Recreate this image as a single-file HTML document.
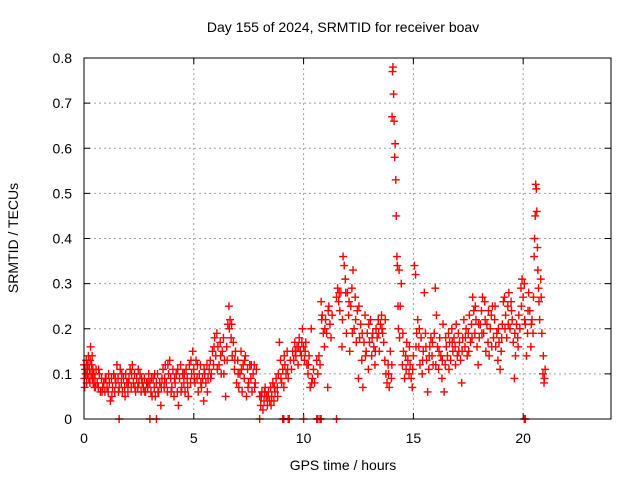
<!DOCTYPE html>
<html><head><meta charset="utf-8"><style>
html,body{margin:0;padding:0;background:#fff;}
svg{display:block;font-family:"Liberation Sans",sans-serif;}
</style></head><body>
<svg id="chart" width="640" height="480" viewBox="0 0 640 480" xmlns="http://www.w3.org/2000/svg">
<rect width="640" height="480" fill="#fff"/>
<text x="343" y="32" font-size="14" text-anchor="middle">Day 155 of 2024, SRMTID for receiver boav</text>
<text x="343" y="470" font-size="14" text-anchor="middle">GPS time / hours</text>
<text x="0" y="0" font-size="14" text-anchor="middle" transform="translate(18,238) rotate(-90)">SRMTID / TECUs</text>
<g id="grid"></g><g id="ticks"></g><g id="marks"></g>
<rect x="84" y="58" width="527" height="361" fill="none" stroke="#000" stroke-width="1"/>
</svg>
<script>
const xTicks = [0,5,10,15,20];
const yTicks = [0,0.1,0.2,0.3,0.4,0.5,0.6,0.7,0.8];
const yTickLabels = ["0","0.1","0.2","0.3","0.4","0.5","0.6","0.7","0.8"];
const samples = [
[0,.12],[.02,.09],[.05,.11],[.08,.10],[.1,.13],[.12,.08],[.15,.10],[.18,.12],[.2,.14],[.22,.09],[.25,.11],[.28,.13],[.3,.16],[.32,.10],[.35,.12],[.38,.09],[.4,.11],[.42,.08],[.45,.10],[.48,.07],[.5,.09],[.55,.11],[.6,.08],[.65,.07],[.7,.10],[.75,.06],[.8,.09],[.85,.07],[.9,.08],[.95,.06],
[1.0,.09],[1.05,.07],[1.1,.06],[1.15,.08],[1.2,.04],[1.25,.09],[1.3,.07],[1.35,.10],[1.4,.06],[1.45,.08],[1.5,.12],[1.55,.09],[1.6,.07],[1.65,.11],[1.7,.08],[1.75,.06],[1.8,.09],[1.85,.07],[1.9,.10],[1.95,.08],[2.0,.06],[2.05,.09],[2.1,.11],[2.15,.07],[2.2,.12],[2.25,.08],[2.3,.10],[2.35,.06],[2.4,.09],[2.45,.07],[2.5,.08],[2.55,.10],[2.6,.06],[2.65,.08],[2.7,.07],[2.75,.09],[2.8,.06],[2.85,.08],[2.9,.07],[2.95,.10],
[3.0,.08],[3.05,.06],[3.1,.05],[3.15,.09],[3.2,.07],[3.25,.05],[3.3,.08],[3.35,.10],[3.4,.06],[3.45,.08],[3.5,.03],[3.55,.09],[3.6,.11],[3.65,.07],[3.7,.12],[3.75,.08],[3.8,.06],[3.85,.10],[3.9,.13],[3.95,.09],[4.0,.07],[4.05,.11],[4.1,.05],[4.15,.08],[4.2,.10],[4.25,.06],[4.3,.03],[4.35,.09],[4.4,.12],[4.45,.07],[4.5,.10],[4.55,.08],[4.6,.06],[4.65,.11],[4.7,.09],[4.75,.05],[4.8,.12],[4.85,.08],[4.9,.10],[4.95,.15],
[5.0,.11],[5.05,.08],[5.1,.13],[5.15,.09],[5.2,.06],[5.25,.10],[5.3,.12],[5.35,.07],[5.4,.09],[5.45,.04],[5.5,.10],[5.55,.08],[5.6,.12],[5.65,.09],[5.7,.11],[5.75,.13],[5.8,.10],[5.85,.15],[5.9,.12],[5.95,.18],
[6.0,.14],[6.05,.19],[6.1,.16],[6.15,.12],[6.2,.17],[6.25,.10],[6.3,.15],[6.35,.18],[6.4,.13],[6.45,.05],[6.5,.16],[6.55,.21],[6.6,.25],[6.65,.22],[6.7,.18],[6.75,.14],[6.8,.17],[6.85,.11],[6.9,.15],[6.95,.08],[7.0,.13],[7.05,.07],[7.1,.10],[7.15,.15],[7.2,.06],[7.25,.12],[7.3,.09],[7.35,.14],[7.4,.05],[7.45,.11],[7.5,.08],[7.55,.12],[7.6,.09],[7.65,.06],[7.7,.10],[7.75,.12],[7.8,.08],[7.85,.11],
[8.0,.05],[8.05,.03],[8.1,.06],[8.15,.02],[8.2,.04],[8.25,.07],[8.3,.05],[8.35,.03],[8.4,.06],[8.45,.04],[8.5,.07],[8.55,.05],[8.6,.08],[8.65,.04],[8.7,.06],[8.75,.09],[8.8,.07],[8.85,.10],[8.9,.17],[8.95,.13],[9.0,.08],[9.05,.11],[9.1,.07],[9.15,.12],[9.2,.10],[9.25,.15],[9.3,.09],[9.4,.13],[9.5,.15],[9.55,.13],[9.6,.17],[9.65,.14],[9.7,.16],[9.75,.12],[9.8,.18],[9.85,.15],[9.9,.14],[9.95,.20],[10.0,.16],
[10.05,.13],[10.1,.17],[10.15,.12],[10.2,.10],[10.25,.14],[10.3,.07],[10.35,.20],[10.4,.09],[10.45,.11],[10.5,.08],[10.6,.13],[10.65,.10],[10.7,.14],[10.75,.12],[10.8,.26],[10.85,.23],[10.9,.19],[10.95,.16],[11.0,.22],[11.05,.19],[11.1,.07],[11.15,.25],[11.2,.21],[11.25,.18],[11.3,.23],
[11.5,.27],[11.55,.29],[11.6,.26],[11.65,.24],[11.7,.28],[11.75,.16],[11.8,.36],[11.85,.34],[11.9,.31],[11.95,.19],[12.0,.28],[12.05,.23],[12.1,.15],[12.15,.25],[12.2,.29],[12.25,.33],[12.3,.20],[12.35,.27],[12.4,.17],[12.45,.24],[12.5,.09],[12.55,.18],[12.6,.21],[12.65,.13],[12.7,.07],[12.75,.17],[12.8,.23],[12.85,.15],[12.9,.19],[12.95,.11],[13.0,.17],[13.05,.22],[13.1,.14],[13.15,.19],[13.2,.16],[13.25,.12],[13.3,.20],[13.35,.18],[13.4,.22],[13.45,.15],[13.5,.21],[13.55,.23],[13.6,.19],[13.65,.17],[13.7,.13],[13.75,.10],[13.8,.08],[13.85,.12],[13.9,.07],[13.95,.15],
[14.0,.09],[14.03,.67],[14.05,.77],[14.07,.78],[14.1,.72],[14.12,.66],[14.15,.58],[14.17,.61],[14.2,.53],[14.22,.45],[14.25,.36],[14.27,.34],[14.3,.25],[14.32,.20],[14.35,.33],[14.4,.25],[14.45,.30],[14.5,.12],[14.55,.15],[14.6,.09],[14.65,.14],
[14.7,.17],[14.75,.13],[14.8,.10],[14.85,.12],[14.9,.09],[14.95,.07],[15.0,.14],[15.05,.34],[15.1,.32],[15.15,.19],[15.2,.22],[15.25,.16],[15.3,.12],[15.35,.18],[15.4,.10],[15.45,.15],[15.5,.28],[15.55,.19],[15.6,.13],[15.65,.06],[15.7,.11],[15.75,.16],[15.8,.18],[15.85,.14],[15.9,.12],[15.95,.19],[16.0,.29],[16.05,.23],[16.1,.16],[16.15,.11],[16.2,.18],[16.25,.14],[16.3,.09],[16.35,.21],[16.4,.06],[16.45,.12],[16.5,.16],[16.55,.14],[16.6,.19],[16.65,.17],[16.7,.13],[16.75,.20],[16.8,.15],[16.85,.18],[16.9,.16],[16.95,.21],[17.0,.14],[17.05,.19],[17.1,.17],[17.15,.13],[17.2,.08],[17.25,.18],[17.3,.22],[17.35,.16],[17.4,.20],[17.45,.14],[17.5,.19],[17.55,.23],[17.6,.17],[17.65,.21],[17.7,.27],[17.75,.24],[17.8,.19],[17.85,.22],[17.9,.16],[17.95,.12],[18.0,.18],[18.05,.21],[18.1,.24],[18.15,.27],[18.2,.19],[18.25,.26],[18.3,.15],[18.35,.21],[18.4,.17],[18.45,.14],[18.5,.20],[18.55,.23],[18.6,.25],[18.65,.18],[18.7,.22],[18.75,.16],[18.8,.19],[18.85,.13],[18.9,.17],[18.95,.11],[19.0,.15],[19.05,.21],[19.1,.26],[19.15,.27],[19.2,.23],[19.25,.18],[19.3,.25],[19.35,.28],[19.4,.20],[19.45,.26],[19.5,.22],[19.55,.17],[19.6,.09],[19.65,.14],[19.7,.21],[19.75,.18],[19.8,.23],[19.85,.20],[19.9,.29],[19.95,.31],
[20.0,.27],[20.05,.30],[20.1,.21],[20.15,.14],[20.2,.19],[20.25,.28],[20.3,.24],[20.35,.16],[20.4,.22],[20.45,.19],[20.5,.36],[20.52,.40],[20.55,.45],[20.57,.52],[20.6,.51],[20.62,.46],[20.65,.38],[20.67,.33],[20.7,.29],[20.72,.26],[20.75,.22],[20.8,.31],[20.82,.27],[20.85,.19],[20.9,.10],[20.92,.14],[20.95,.08],[20.97,.09],[21.0,.11]
];
const extraSamples = [
[.03,.07],[.13,.12],[.27,.08],[.37,.14],[.52,.07],[.67,.11],[.82,.06],[.97,.09],[1.12,.10],[1.27,.05],[1.42,.09],[1.57,.06],[1.72,.10],[1.87,.05],[2.02,.08],[2.17,.10],[2.32,.07],[2.47,.11],[2.62,.09],[2.77,.06],[2.92,.08],
[3.07,.09],[3.22,.10],[3.37,.06],[3.52,.07],[3.67,.09],[3.82,.12],[3.97,.06],[4.12,.09],[4.27,.11],[4.42,.06],[4.57,.10],[4.72,.07],[4.87,.13],[5.02,.09],[5.17,.12],[5.32,.08],[5.47,.11],[5.62,.06],[5.77,.09],[5.92,.16],
[6.07,.11],[6.22,.14],[6.37,.10],[6.52,.13],[6.62,.20],[6.72,.21],[6.87,.13],[7.02,.10],[7.17,.11],[7.32,.13],[7.47,.07],[7.62,.12],[7.77,.07],[8.07,.05],[8.22,.06],[8.37,.05],[8.52,.03],[8.67,.07],[8.82,.05],[8.97,.09],[9.12,.14],[9.27,.11],[9.45,.11],[9.62,.15],[9.77,.16],[9.92,.17],[10.07,.15],[10.22,.12],[10.37,.08],
[10.82,.22],[10.97,.20],[11.12,.24],[11.62,.28],[11.77,.22],[11.92,.28],[12.07,.26],[12.22,.19],[12.37,.22],[12.52,.25],[12.67,.19],[12.82,.14],[12.97,.21],[13.12,.18],[13.27,.15],[13.42,.19],[13.57,.20],[13.72,.22],[13.87,.10],[14.02,.12],[14.37,.18],[14.52,.19],[14.67,.11],[14.82,.16],[14.97,.11],
[15.12,.16],[15.27,.20],[15.42,.13],[15.57,.16],[15.72,.14],[15.87,.17],[16.02,.12],[16.17,.15],[16.32,.13],[16.47,.18],[16.62,.11],[16.77,.17],[16.92,.12],[17.07,.15],[17.22,.15],[17.37,.18],[17.52,.15],[17.67,.18],[17.82,.25],[17.97,.21],[18.12,.19],[18.27,.22],[18.42,.24],[18.57,.16],[18.72,.25],[18.87,.20],[19.02,.18],[19.17,.20],[19.32,.21],[19.47,.24],[19.62,.19],[19.77,.16],[19.92,.25],[20.07,.22],[20.22,.24],[20.37,.21],[20.47,.27]
];
const zeroHours = [1.6,3.0,3.3,8.0,9.05,9.1,9.3,9.35,10.0,10.6,10.65,10.75,10.8,11.5,20.05,20.1];

const NS = "http://www.w3.org/2000/svg";
const X0 = 84, X1 = 611, Y0 = 419, Y1 = 58;
function xScale(h){ return X0 + h / 24 * (X1 - X0); }
function yScale(v){ return Y0 - v / 0.8 * (Y0 - Y1); }
function mk(tag, attrs, parent){ const e = document.createElementNS(NS, tag); for (const k in attrs) e.setAttribute(k, attrs[k]); parent.appendChild(e); return e; }
const grid = document.getElementById('grid'), ticks = document.getElementById('ticks'), marks = document.getElementById('marks');

xTicks.forEach(t => {
  const x = xScale(t);
  if (t > 0) {
    const g = mk('line', {x1:x, x2:x, y1:Y1, y2:Y0, stroke:'#a0a0a0', 'stroke-dasharray':'2,3'}, grid);
    
    
  }
  mk('line', {x1:x, x2:x, y1:Y0, y2:Y0-6, stroke:'#000'}, ticks);
  mk('line', {x1:x, x2:x, y1:Y1, y2:Y1+6, stroke:'#000'}, ticks);
  const l = mk('text', {x:x, y:443, 'font-size':14, 'text-anchor':'middle'}, ticks);
  l.textContent = String(t);
  
  
});
yTicks.forEach((t, i) => {
  const y = yScale(t);
  if (t > 0 && t < 0.8) {
    const g = mk('line', {x1:X0, x2:X1, y1:y, y2:y, stroke:'#a0a0a0', 'stroke-dasharray':'2,3'}, grid);
    
    
  }
  mk('line', {x1:X0, x2:X0+6, y1:y, y2:y, stroke:'#000'}, ticks);
  mk('line', {x1:X1, x2:X1-6, y1:y, y2:y, stroke:'#000'}, ticks);
  const l = mk('text', {x:72, y:y+5, 'font-size':14, 'text-anchor':'end'}, ticks);
  l.textContent = yTickLabels[i];
  
  
});
function plus(h, v){
  const x = xScale(h), y = yScale(v);
  const p = mk('path', {d:`M${x-4},${y}H${x+4}M${x},${y-4}V${y+4}`, stroke:'#ff0000', 'stroke-width':1.4, fill:'none'}, marks);
  
  
}
samples.forEach(s => plus(s[0], s[1]));
extraSamples.forEach(s => plus(s[0], s[1]));
zeroHours.forEach(h => plus(h, 0));
</script>
</body></html>
